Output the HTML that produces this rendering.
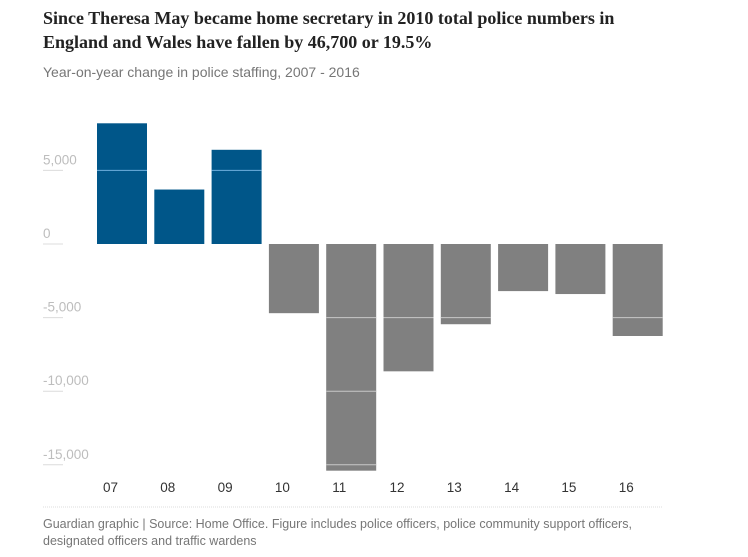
<!DOCTYPE html>
<html><head><meta charset="utf-8"><style>
body{margin:0;background:#fff;width:748px;height:557px;overflow:hidden;font-family:"Liberation Sans",sans-serif}
#title{position:absolute;left:43px;top:6px;width:630px;font:bold 18px/24px "Liberation Serif",serif;color:#222}
#sub{position:absolute;left:43px;top:64px;font-size:14px;color:#767676}
#foot{position:absolute;left:43px;top:516px;font-size:12.5px;line-height:17px;color:#767676;width:625px}
svg{position:absolute;left:0;top:0}
</style></head><body>
<div id="title">Since Theresa May became home secretary in 2010 total police numbers in England and Wales have fallen by 46,700 or 19.5%</div>
<div id="sub">Year-on-year change in police staffing, 2007 - 2016</div>
<svg id="chart" width="748" height="557"></svg>
<div id="foot">Guardian graphic | Source: Home Office. Figure includes police officers, police community support officers, designated officers and traffic wardens</div>
<script>
const categories=["07","08","09","10","11","12","13","14","15","16"];
const values=[8200,3700,6400,-4700,-15400,-8650,-5450,-3200,-3400,-6250];
const tickValues=[5000,0,-5000,-10000,-15000];
const tickLabels=["5,000","0","-5,000","-10,000","-15,000"];
const NS="http://www.w3.org/2000/svg";
const svg=document.getElementById('chart');
const y=v=>244-v*0.01472;
const x=i=>97+i*57.3;
const bw=50;
function mk(t,a){const e=document.createElementNS(NS,t);for(const k in a)e.setAttribute(k,a[k]);svg.appendChild(e);return e;}
tickValues.forEach((v,i)=>{
  const l=mk('line',{x1:43,x2:63,y1:y(v),y2:y(v),stroke:'#dcdcdc','stroke-width':1});
  
  
  const t=mk('text',{x:43,y:y(v)-6,'font-size':13.5,fill:'#bdbdbd','font-family':'Liberation Sans, sans-serif'});
  t.textContent=tickLabels[i];
  
  
});
values.forEach((v,i)=>{
  const top=Math.min(y(v),y(0)),h=Math.abs(y(v)-y(0));
  const r=mk('rect',{x:x(i),y:top,width:bw,height:h,fill:v>=0?'#005689':'#808080'});
  
  
  tickValues.forEach(tv=>{
    if(tv!==0&&((v>0&&tv>0&&tv<v)||(v<0&&tv<0&&tv>v))){
      const g=mk('line',{x1:x(i),x2:x(i)+bw,y1:y(tv),y2:y(tv),stroke:v>0?'#6fb0de':'#c8c8c8','stroke-width':1});
      
      
    }
  });
  const t=mk('text',{x:x(i)+6,y:492,'font-size':13.5,fill:'#333','font-family':'Liberation Sans, sans-serif'});
  t.textContent=categories[i];
  
  
});
const d=mk('line',{x1:43,x2:663,y1:507,y2:507,stroke:'#dcdcdc','stroke-width':1,'stroke-dasharray':'1 1'});


</script>
</body></html>
